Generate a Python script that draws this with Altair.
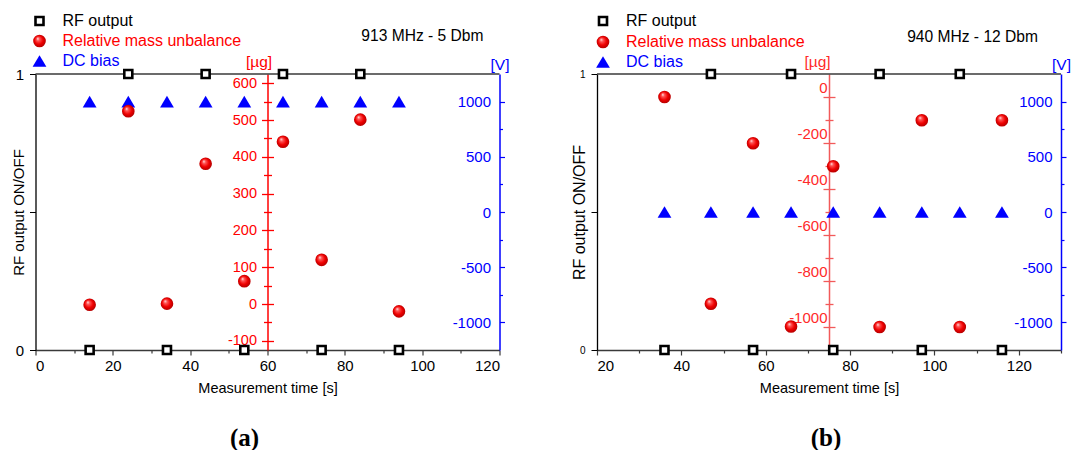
import altair as alt
import pandas as pd

# ---------------- data ----------------
# panel (a)
time_a = [14, 24, 34, 44, 54, 64, 74, 84, 94]
rf_a = [0, 1, 0, 1, 0, 1, 0, 1, 0]
mass_a = [-2, 524, 1, 381, 62, 441, 120, 501, -20]
dc_a = [1000, 1000, 1000, 1000, 1000, 1000, 1000, 1000, 1000]

# panel (b)
time_b = [36, 47, 57, 66, 76, 87, 97, 106, 116]
rf_b = [0, 1, 0, 1, 0, 1, 0, 1, 0]
mass_b = [0, -899, -201, -998, -301, -1000, -101, -1000, -101]
dc_b = [0, 0, 0, 0, 0, 0, 0, 0, 0]

legend_labels = ["RF output", "Relative mass unbalance", "DC bias"]
notes = ["913 MHz - 5 Dbm", "940 MHz - 12 Dbm"]
captions = ["(a)", "(b)"]
x_ticks_a = list(range(0, 121, 10))
x_ticks_b = list(range(20, 131, 10))
mass_ticks_a = list(range(-100, 601, 50))
mass_ticks_b = list(range(-1000, 1, 100))
dc_ticks = list(range(-1000, 1001, 250))

# ---------------- style ----------------
W, H = 464, 276
FONT = "Liberation Sans"
RED = "#ff0000"
BLUE = "#0000ff"

sphere = alt.RadialGradient(
    gradient="radial",
    stops=[
        alt.GradientStop(color="#ffffff", offset=0),
        alt.GradientStop(color="#ff5a5a", offset=0.22),
        alt.GradientStop(color="#f00000", offset=0.6),
        alt.GradientStop(color="#a80000", offset=1),
    ],
    x1=0.35, y1=0.3, r1=0, x2=0.5, y2=0.5, r2=0.55,
)
TRI = "M-1,0.85L0,-0.85L1,0.85Z"


def one(text):
    return pd.DataFrame({"text": [text]})


def text_at(text, x, y, color="black", size=16, align="left", font=FONT, weight="normal"):
    return alt.Chart(one(text)).mark_text(
        align=align, baseline="middle", font=font, fontSize=size, color=color, fontWeight=weight
    ).encode(x=alt.value(x), y=alt.value(y), text="text:N")


def sym_at(x, y, **kw):
    return alt.Chart(one("s")).mark_point(opacity=1, **kw).encode(x=alt.value(x), y=alt.value(y))


def panel(time, rf, mass, dc, cfg):
    df = pd.DataFrame({"t": time, "rf": rf, "mass": mass, "dc": dc})
    base = alt.Chart(df)
    xdom = cfg["xdom"]
    xscale = alt.Scale(domain=xdom, nice=False, zero=False)
    xnone = alt.X("t:Q", scale=xscale, axis=None)
    mscale = alt.Scale(domain=cfg["mdom"], nice=False, zero=False)
    p = (cfg["red_x"] - xdom[0]) / (xdom[1] - xdom[0]) * W
    mstep = cfg["mstep"]
    rc = cfg["red_line"]

    top_line = alt.Chart(one("t")).mark_rule(color="#3a3a3a", strokeWidth=1.3).encode(
        y=alt.YDatum(1, scale=alt.Scale(domain=[0, 1]), axis=None)
    )

    squares = base.mark_point(
        shape="square", filled=True, fill="white", stroke="black", strokeWidth=2.6, size=64, opacity=1
    ).encode(
        x=alt.X(
            "t:Q", scale=xscale,
            axis=alt.Axis(
                values=cfg["xticks"],
                labelExpr="datum.value % 20 == 0 ? toString(datum.value) : ''",
                tickSize={"condition": {"test": "datum.value % 20 != 0", "value": 3}, "value": 5},
                domainColor="#3a3a3a", tickColor="#3a3a3a", domainWidth=1.3, tickWidth=1.2,
                labelFontSize=15, labelPadding=3, labelColor="black",
                title="Measurement time [s]", titleFontSize=14.5, titlePadding=8,
                titleFontWeight="normal", titleColor="black",
            ),
        ),
        y=alt.Y(
            "rf:Q", scale=alt.Scale(domain=[0, 1], nice=False, zero=False),
            axis=alt.Axis(
                values=[0, 0.5, 1],
                labelExpr="datum.value == 0 ? '0' : (datum.value == 1 ? '1' : '')",
                tickSize=6, domainColor="black", tickColor="black", domainWidth=1.3,
                labelFontSize=cfg["yfont"], labelPadding=6, labelColor="black",
                title="RF output ON/OFF", titleFontSize=cfg["ytitle_font"], titleFontWeight="normal",
                titleColor="black", titleAngle=-90, titleX=cfg["ytitle_x"], titleY=H / 2,
                titleAlign="center", titleBaseline="middle",
            ),
        ),
    )

    red_axis_left = alt.Axis(
        orient="left", offset=-p, values=cfg["mticks"],
        labelExpr=f"datum.value % {mstep} == 0 ? toString(datum.value) : ''",
        tickSize={"condition": {"test": f"datum.value % {mstep} != 0", "value": 4}, "value": 6},
        domainColor=rc, tickColor=rc, domainWidth=1.5, tickWidth=1.3,
        labelColor=cfg["red_label"], labelFontSize=cfg["mfont"], labelPadding=cfg["red_pad"],
        labelOffset=cfg["red_loff"],
        title="[µg]", titleAngle=0, titleX=cfg["red_title_dx"], titleY=-13,
        titleAlign="center", titleBaseline="middle", titleColor=cfg["red_label"],
        titleFontSize=15.5, titleFontWeight="normal",
    )
    spheres = base.mark_point(
        shape="circle", filled=True, fill=sphere, size=160, opacity=1, strokeWidth=0
    ).encode(x=xnone, y=alt.Y("mass:Q", scale=mscale, axis=red_axis_left))

    red_ticks_right = base.mark_point(opacity=0).encode(
        x=xnone,
        y=alt.Y(
            "mass:Q", scale=mscale,
            axis=alt.Axis(
                orient="right", offset=-(W - p), values=cfg["mticks"], labels=False, domain=False,
                tickSize={"condition": {"test": f"datum.value % {mstep} != 0", "value": 4}, "value": 6},
                tickColor=rc, tickWidth=1.3, title=None,
            ),
        ),
    )

    triangles = base.mark_point(
        shape=TRI, filled=True, color=BLUE, size=190, opacity=1, strokeWidth=0
    ).encode(
        x=xnone,
        y=alt.Y(
            "dc:Q", scale=alt.Scale(domain=[-1250, 1250], nice=False, zero=False),
            axis=alt.Axis(
                orient="right", offset=0, values=dc_ticks,
                labelExpr="datum.value % 500 == 0 ? toString(datum.value) : ''",
                tickSize={"condition": {"test": "datum.value % 500 != 0", "value": 3}, "value": 5},
                domainColor=BLUE, tickColor=BLUE, domainWidth=1.5, tickWidth=1.2,
                labelColor=BLUE, labelFontSize=15, labelAlign="right", labelPadding=-14,
                title="[V]", titleAngle=0, titleX=0, titleY=-10, titleAlign="center",
                titleBaseline="middle", titleColor=BLUE, titleFontSize=15.5, titleFontWeight="normal",
            ),
        ),
    )

    sx, tx, ys = cfg["leg_sym_x"], cfg["leg_text_x"], cfg["leg_y"]
    legend = [
        sym_at(sx, ys[0], shape="square", filled=True, fill="white", stroke="black", strokeWidth=2.6, size=64),
        sym_at(sx, ys[1], shape="circle", filled=True, fill=sphere, size=160, strokeWidth=0),
        sym_at(sx, ys[2], shape=TRI, filled=True, color=BLUE, size=190, strokeWidth=0),
        text_at(legend_labels[0], tx, ys[0], "black"),
        text_at(legend_labels[1], tx, ys[1], RED),
        text_at(legend_labels[2], tx, ys[2], BLUE),
        text_at(cfg["note"], cfg["note_x"], cfg["note_y"], "black", size=15.6, align="right"),
        text_at(cfg["caption"], cfg["cap_x"], 364, "black", size=25, align="center",
                font="Liberation Serif", weight="bold"),
    ]

    return alt.layer(
        top_line, red_ticks_right, triangles, spheres, squares, *legend
    ).resolve_scale(x="independent", y="independent").resolve_axis(
        x="independent", y="independent"
    ).properties(width=W, height=H)


cfg_a = dict(
    xdom=[0, 120], xticks=x_ticks_a, mdom=[-125, 625], mticks=mass_ticks_a, mstep=100,
    red_x=60, red_line=RED, red_label=RED, mfont=14.5, red_pad=5, red_loff=0, red_title_dx=-9,
    yfont=15, ytitle_font=15, ytitle_x=-17,
    leg_sym_x=4, leg_text_x=27, leg_y=[-53, -33, -13],
    note=notes[0], note_x=448, note_y=-38, caption=captions[0], cap_x=209,
)
cfg_b = dict(
    xdom=[20, 130], xticks=x_ticks_b, mdom=[-1100, 100], mticks=mass_ticks_b, mstep=200,
    red_x=75, red_line="#f25a5a", red_label="#ff2a2a", mfont=15, red_pad=-4, red_loff=-10,
    red_title_dx=-12,
    yfont=10, ytitle_font=16, ytitle_x=-18,
    leg_sym_x=6, leg_text_x=29, leg_y=[-53, -32, -12],
    note=notes[1], note_x=441, note_y=-37, caption=captions[1], cap_x=229,
)

chart_a = panel(time_a, rf_a, mass_a, dc_a, cfg_a)
chart_b = panel(time_b, rf_b, mass_b, dc_b, cfg_b)

chart = alt.hconcat(chart_a, chart_b, spacing=61.5).configure_view(stroke=None).configure_axis(
    grid=False, labelFont=FONT, titleFont=FONT
).properties(padding={"left": 3.5, "top": 3, "right": 5, "bottom": 5})

chart.save("out.html", embed_options={"renderer": "svg", "actions": False})
